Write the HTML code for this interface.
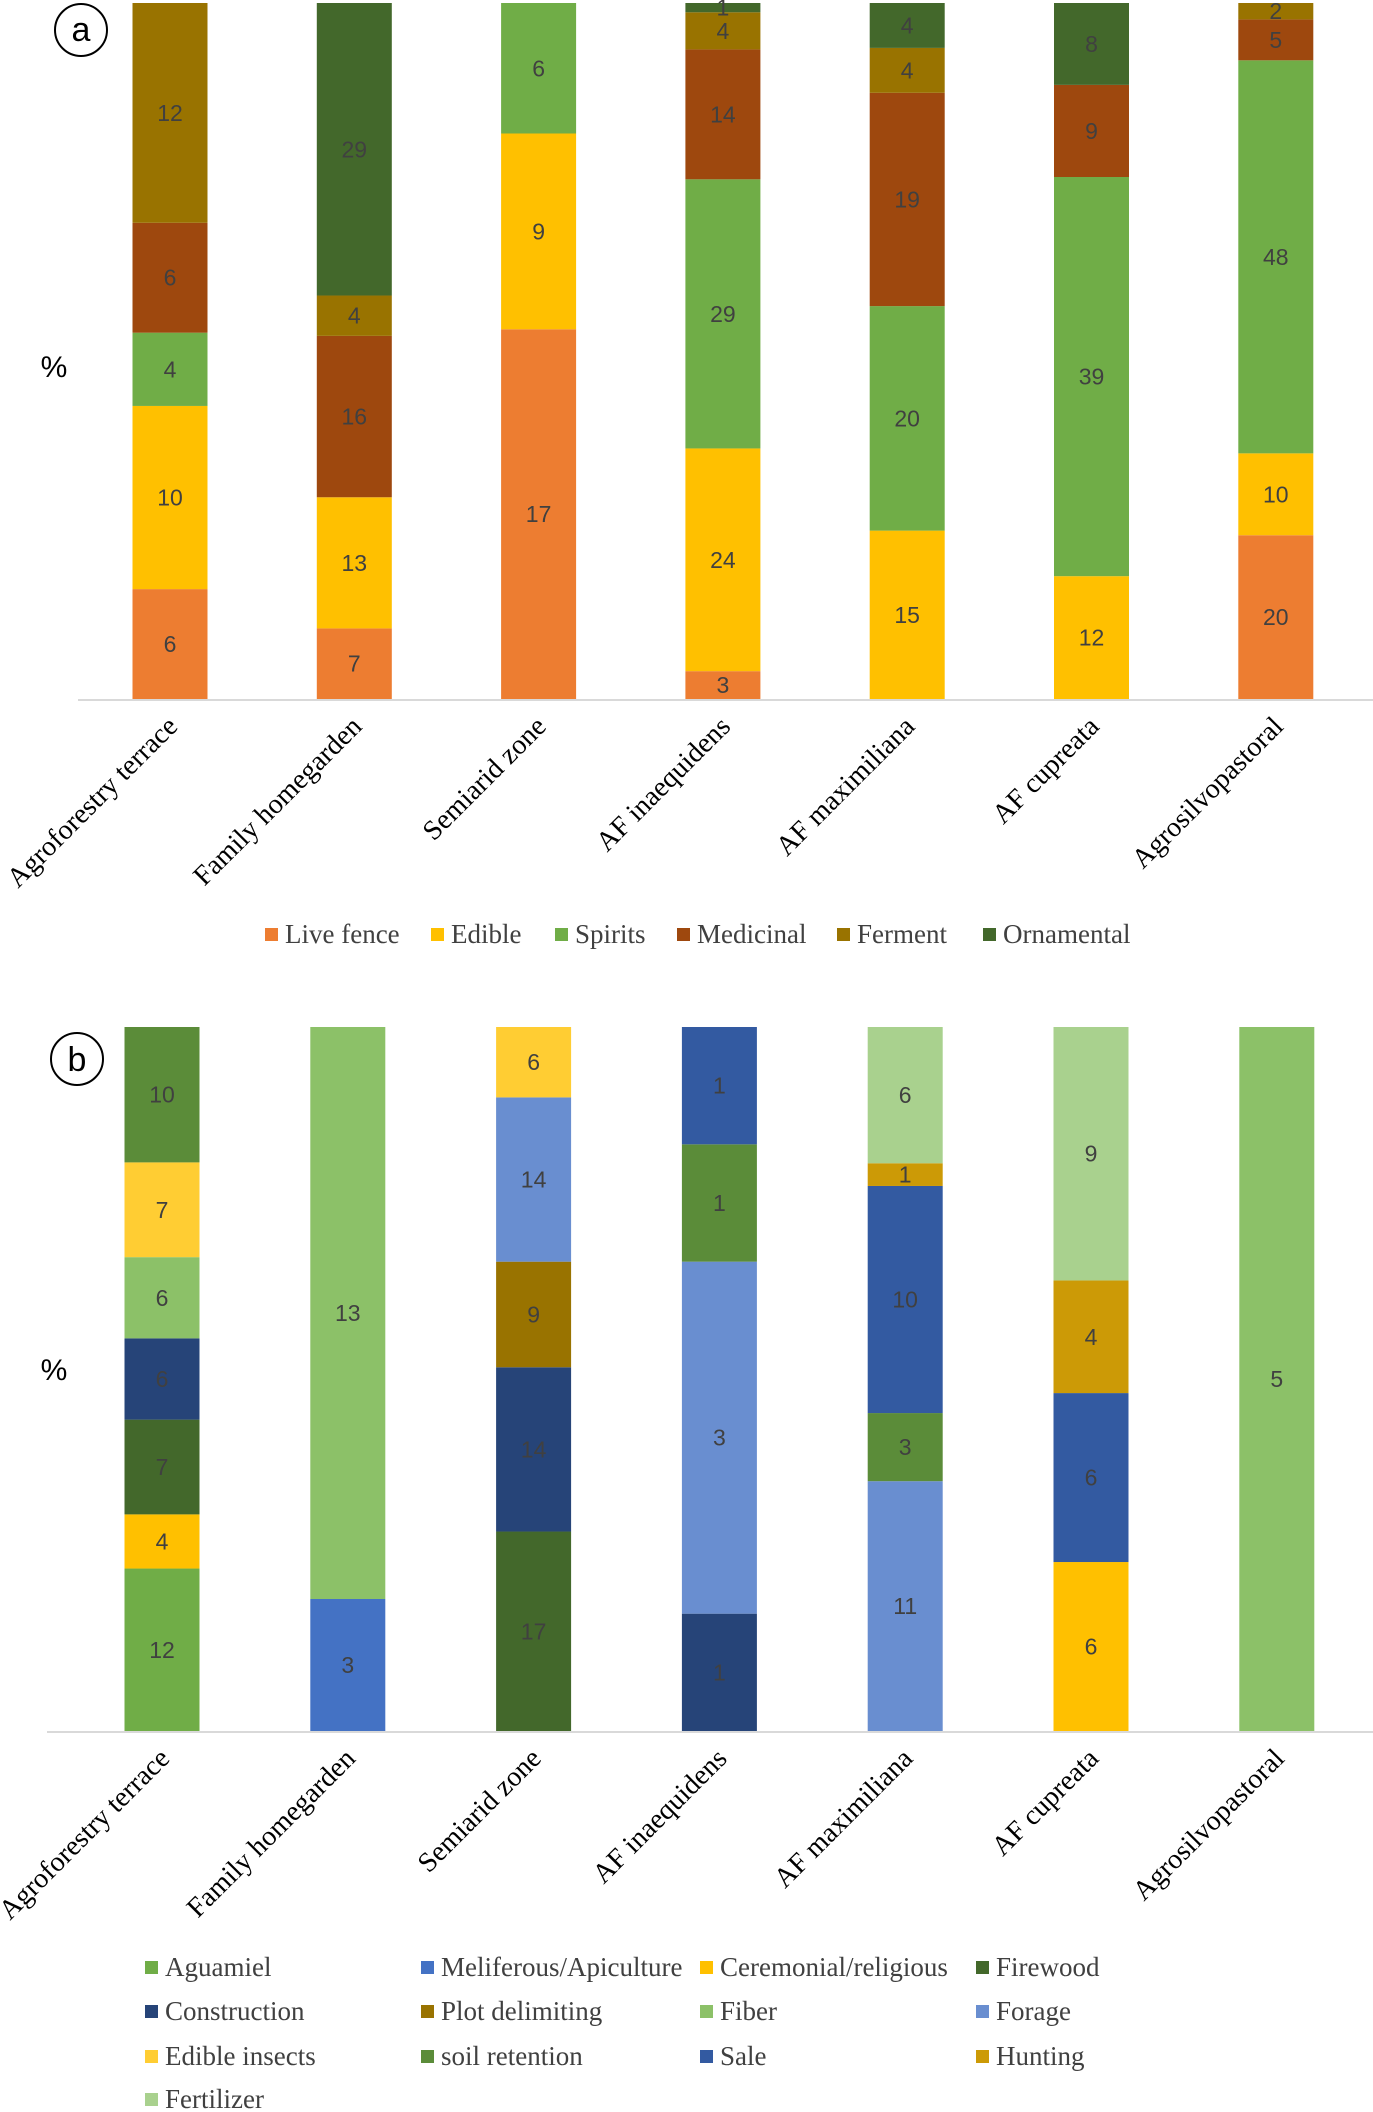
<!DOCTYPE html>
<html><head><meta charset="utf-8"><style>
html,body{margin:0;padding:0;background:#fff;}
svg{display:block;}
</style></head><body>
<svg id="chart" width="1373" height="2112" viewBox="0 0 1373 2112" xmlns="http://www.w3.org/2000/svg">
<g><circle cx="81" cy="30" r="26" fill="none" stroke="#000" stroke-width="2"/><text x="81" y="41" text-anchor="middle" font-family="Liberation Sans, sans-serif" font-size="34">a</text></g>
<g><circle cx="77" cy="1059" r="26" fill="none" stroke="#000" stroke-width="2"/><text x="77" y="1071" text-anchor="middle" font-family="Liberation Sans, sans-serif" font-size="34">b</text></g>
<text x="54" y="377" text-anchor="middle" font-family="Liberation Sans, sans-serif" font-size="30">%</text>
<text x="54" y="1380" text-anchor="middle" font-family="Liberation Sans, sans-serif" font-size="30">%</text>
<g id="ga"></g><g id="gb"></g>
</svg>
<script>
const categories = ["Agroforestry terrace","Family homegarden","Semiarid zone","AF inaequidens","AF maximiliana","AF cupreata","Agrosilvopastoral"];
const seriesA = ["Live fence","Edible","Spirits","Medicinal","Ferment","Ornamental"];
const colorsA = ["#ed7d31","#ffc000","#70ad47","#9e480e","#997300","#43682b"];
const liveFence = [6,7,17,3,0,0,20];
const edible = [10,13,9,24,15,12,10];
const spirits = [4,0,6,29,20,39,48];
const medicinal = [6,16,0,14,19,9,5];
const ferment = [12,4,0,4,4,0,2];
const ornamental = [0,29,0,1,4,8,0];
const valuesA = [liveFence,edible,spirits,medicinal,ferment,ornamental];

const seriesB = ["Aguamiel","Meliferous/Apiculture","Ceremonial/religious","Firewood","Construction","Plot delimiting","Fiber","Forage","Edible insects","soil retention","Sale","Hunting","Fertilizer"];
const colorsB = ["#70ad47","#4472c4","#ffc000","#43682b","#264478","#997300","#8cc168","#698ed0","#ffcd33","#5b8c39","#335aa1","#cc9a06","#a9d18e"];
const aguamiel = [12,0,0,0,0,0,0];
const meliferous = [0,3,0,0,0,0,0];
const ceremonial = [4,0,0,0,0,6,0];
const firewood = [7,0,17,0,0,0,0];
const construction = [6,0,14,1,0,0,0];
const plotDelimiting = [0,0,9,0,0,0,0];
const fiber = [6,13,0,0,0,0,5];
const forage = [0,0,14,3,11,0,0];
const edibleInsects = [7,0,6,0,0,0,0];
const soilRetention = [10,0,0,1,3,0,0];
const sale = [0,0,0,1,10,6,0];
const hunting = [0,0,0,0,1,4,0];
const fertilizer = [0,0,0,0,6,9,0];
const valuesB = [aguamiel,meliferous,ceremonial,firewood,construction,plotDelimiting,fiber,forage,edibleInsects,soilRetention,sale,hunting,fertilizer];

const NS="http://www.w3.org/2000/svg";
function mk(tag,attrs,parent){const e=document.createElementNS(NS,tag);for(const k in attrs)e.setAttribute(k,attrs[k]);parent.appendChild(e);return e;}

function drawPanel(g,values,colors,names,cfg){
  const xScale=i=>cfg.x0+i*cfg.step;
  const yScale=f=>cfg.base-f*(cfg.base-cfg.top);
  const ax=mk('line',{x1:cfg.axL,x2:1373,y1:cfg.base+1,y2:cfg.base+1,stroke:'#d9d9d9','stroke-width':2},g);
  
  
  categories.forEach((c,i)=>{
    let total=0;values.forEach(s=>total+=s[i]);
    let cum=0;
    values.forEach((s,k)=>{
      const v=s[i];if(!v)return;
      const y1=yScale((cum+v)/total),y0=yScale(cum/total);cum+=v;
      const r=mk('rect',{x:xScale(i)-cfg.w/2,y:y1,width:cfg.w,height:y0-y1,fill:colors[k]},g);
      
      
      const t=mk('text',{x:xScale(i),y:(y0+y1)/2+8,'text-anchor':'middle','font-family':'Liberation Sans, sans-serif','font-size':23,fill:'#404040'},g);
      t.textContent=v;
      
      
    });
    const lx=xScale(i)+9,ly=cfg.base+29;
    const t=mk('text',{x:lx,y:ly,'text-anchor':'end',transform:`rotate(-45 ${lx} ${ly})`,'font-family':'Liberation Serif, serif','font-size':28,fill:'#000'},g);
    t.textContent=c;
    
    
  });
}
drawPanel(document.getElementById('ga'),valuesA,colorsA,seriesA,{x0:170,step:184.3,w:75,top:3,base:699,axL:78});
drawPanel(document.getElementById('gb'),valuesB,colorsB,seriesB,{x0:162,step:185.8,w:75,top:1027,base:1731,axL:47});

function legend(g,names,colors,pos){
  names.forEach((n,k)=>{
    const [x,y]=pos(k);
    const r=mk('rect',{x:x,y:y-7,width:13,height:13,fill:colors[k]},g);
    
    
    const t=mk('text',{x:x+20,y:y+8,'font-family':'Liberation Serif, serif','font-size':27,fill:'#404040'},g);
    t.textContent=n;
    
    
  });
}
const lxA=[265,431,555,677,837,983];
legend(document.getElementById('ga'),seriesA,colorsA,k=>[lxA[k],935]);
const colB=[145,421,700,976],rowB=[1968,2012,2057,2100];
legend(document.getElementById('gb'),seriesB,colorsB,k=>[colB[k%4],rowB[Math.floor(k/4)]]);
</script>
</body></html>
